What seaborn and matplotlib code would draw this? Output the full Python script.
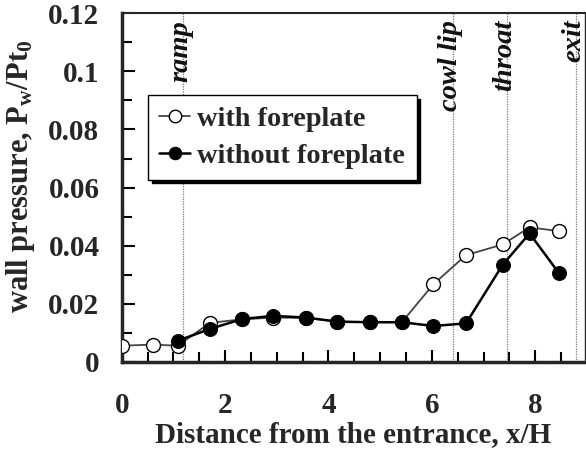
import matplotlib
matplotlib.use("Agg")
import matplotlib.pyplot as plt
import seaborn as sns
import pandas as pd
from matplotlib.ticker import MultipleLocator

# ---- data ----
x_with = [0.0, 0.60, 1.08, 1.71, 2.33, 2.93, 3.57, 4.17, 4.80, 5.42, 6.03, 6.66, 7.37, 7.89, 8.45]
p_with = [0.0055, 0.0059, 0.0055, 0.0134, 0.0146, 0.0152, 0.0151, 0.0138, 0.0136, 0.0136,
          0.0267, 0.0367, 0.0404, 0.0463, 0.0450]
x_without = [1.08, 1.71, 2.33, 2.93, 3.57, 4.17, 4.80, 5.42, 6.03, 6.66, 7.37, 7.89, 8.45]
p_without = [0.0072, 0.0113, 0.0147, 0.0158, 0.0152, 0.0138, 0.0136, 0.0136, 0.0123, 0.0132,
             0.0334, 0.0442, 0.0307]
station_names = ["ramp", "cowl lip", "throat", "exit"]
station_x = [1.18, 6.40, 7.45, 8.78]
series_labels = ["with foreplate", "without foreplate"]
x_ticks = [0, 2, 4, 6, 8]
y_ticks = [0, 0.02, 0.04, 0.06, 0.08, 0.1, 0.12]
y_tick_labels = ["0", "0.02", "0.04", "0.06", "0.08", "0.1", "0.12"]

sns.set_style("ticks")
plt.rcParams["font.family"] = ["Liberation Serif", "DejaVu Serif"]
plt.rcParams["font.weight"] = "bold"
plt.rcParams["mathtext.fontset"] = "custom"
plt.rcParams["mathtext.rm"] = "Liberation Serif:bold"
plt.rcParams["mathtext.it"] = "Liberation Serif:italic:bold"
plt.rcParams["mathtext.bf"] = "Liberation Serif:bold"

FS = 21

fig = plt.figure(figsize=(5.86, 4.61), dpi=100)
ax = fig.add_axes([0.2077, 0.2154, 0.7913, 0.7556])

df_w = pd.DataFrame({"x": x_with, "p": p_with})
df_wo = pd.DataFrame({"x": x_without, "p": p_without})

sns.lineplot(data=df_w, x="x", y="p", ax=ax, sort=False, color="#444444", lw=1.3,
             marker="o", markersize=10, markerfacecolor="white", markeredgecolor="black",
             markeredgewidth=1.0, label=series_labels[0], zorder=3)
sns.lineplot(data=df_wo, x="x", y="p", ax=ax, sort=False, color="black", lw=1.8,
             marker="o", markersize=10, markerfacecolor="black", markeredgecolor="black",
             label=series_labels[1], zorder=4)

for name, xv in zip(station_names, station_x):
    ax.axvline(xv, color="#777777", lw=0.9, ls=(0, (1, 1)), zorder=1)
    ax.text(xv - 0.04, 0.1178, name, rotation=90, ha="center", va="top", fontsize=20.5,
            fontstyle="italic", fontweight="bold", color="#111111", zorder=2)

ax.set_xlim(0, 8.97)
ax.set_ylim(0, 0.12)
ax.set_xticks(x_ticks)
ax.set_yticks(y_ticks)
ax.set_yticklabels(y_tick_labels)
ax.xaxis.set_minor_locator(MultipleLocator(0.5))
ax.yaxis.set_minor_locator(MultipleLocator(0.01))
ax.tick_params(axis="both", which="both", direction="in", labelsize=FS, width=1.5,
               color="black")
ax.tick_params(axis="x", which="both", pad=22)
ax.tick_params(axis="y", which="both", pad=16)
ax.tick_params(axis="both", which="major", length=9)
ax.tick_params(axis="both", which="minor", length=7)
for lab in ax.get_xticklabels() + ax.get_yticklabels():
    lab.set_fontweight("bold")

ax.spines["left"].set_linewidth(2.5)
ax.spines["bottom"].set_linewidth(2.5)
ax.spines["top"].set_linewidth(1.5)
ax.spines["right"].set_linewidth(1.0)

ax.set_xlabel("Distance from the entrance, x/H", fontsize=FS, fontweight="bold", labelpad=1)
ax.set_ylabel(r"wall pressure, P$_{\rm w}$/Pt$_{\rm 0}$", fontsize=22, fontweight="bold")
ax.yaxis.set_label_coords(-0.183, 0.532)

leg = ax.legend(loc="upper left", bbox_to_anchor=(0.057, 0.765), fancybox=False,
                edgecolor="black", framealpha=1, handlelength=1.1, handletextpad=0.25,
                borderpad=0.4, labelspacing=0.38, borderaxespad=0,
                prop={"family": "Liberation Serif", "weight": "bold", "size": 20.3},
                shadow={"color": "black", "alpha": 1, "ox": 2.5, "oy": -2.5})
leg.get_frame().set_linewidth(1.0)
for h in leg.legend_handles:
    h.set_markersize(9)

fig.savefig("out.png", dpi=100)
